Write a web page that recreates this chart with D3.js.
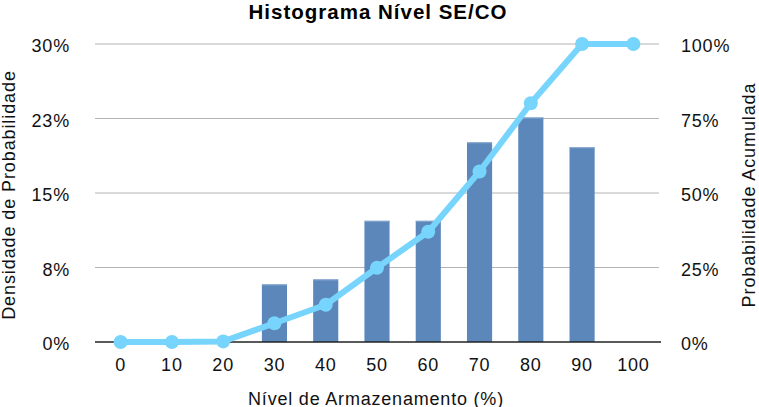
<!DOCTYPE html>
<html><head><meta charset="utf-8">
<script src="https://cdn.jsdelivr.net/npm/d3@7"></script>
<style>body{margin:0;background:#fff}svg{display:block}text{font-family:"Liberation Sans",Arial,sans-serif}</style>
</head><body>
<svg id="c" width="759" height="407"></svg>
<script>
const categories = ["0","10","20","30","40","50","60","70","80","90","100"];
const density = [0, 0, 0, 5.8, 6.3, 12.2, 12.2, 20.1, 22.6, 19.6, 0];
const cumulative = [0, 0, 0.2, 6.3, 12.5, 24.9, 37.0, 57.2, 80.1, 100, 100];
const leftTicks = [0, 7.5, 15, 22.5, 30];
const rightTicks = [0, 25, 50, 75, 100];

const svg = d3.select("#c");
const x = d3.scaleBand().domain(categories).range([95, 659]).paddingInner(0).paddingOuter(0);
const yL = d3.scaleLinear().domain([0,30]).range([342,44]);
const yR = d3.scaleLinear().domain([0,100]).range([342,44]);

// grid
svg.append("g").selectAll("line").data(leftTicks.slice(1)).join("line")
  .attr("x1",95).attr("x2",659).attr("y1",d=>yL(d)).attr("y2",d=>yL(d))
  .attr("stroke","#b3b3b3").attr("stroke-width",1);

// bars
const bw = x.bandwidth()*0.49;
const barData = density.map((v,i)=>({c:categories[i],v})).filter(d=>d.v>0);
svg.append("g").selectAll("rect").data(barData).join("rect")
  .attr("x",d=>x(d.c)+x.bandwidth()/2-bw/2).attr("width",bw)
  .attr("y",d=>yL(d.v)).attr("height",d=>yL(0)-yL(d.v))
  .attr("fill","#5b87ba");
svg.append("g").selectAll("line").data(barData).join("line")
  .attr("x1",d=>x(d.c)+x.bandwidth()/2-bw/2).attr("x2",d=>x(d.c)+x.bandwidth()/2+bw/2)
  .attr("y1",d=>yL(d.v)+0.5).attr("y2",d=>yL(d.v)+0.5)
  .attr("stroke","#8aaad0").attr("stroke-width",1);

// baseline
svg.append("line").attr("x1",95).attr("x2",661).attr("y1",342).attr("y2",342).attr("stroke","#222").attr("stroke-width",1.5);

// line
const cx = c => x(c)+x.bandwidth()/2;
const pts = cumulative.map((v,i)=>({c:categories[i],v}));
svg.append("path").datum(pts)
  .attr("d", d3.line().x(d=>cx(d.c)).y(d=>yR(d.v)))
  .attr("fill","none").attr("stroke","#77d4fc").attr("stroke-width",6).attr("stroke-linejoin","round");
svg.append("g").selectAll("circle").data(pts).join("circle")
  .attr("cx",d=>cx(d.c)).attr("cy",d=>yR(d.v)).attr("r",7).attr("fill","#77d4fc");

// axes
const fmtL = d => Math.round(d) + "%";
const axL = d3.axisLeft(yL).tickValues(leftTicks).tickFormat(fmtL).tickSize(0).tickPadding(0);
const gL = svg.append("g").attr("transform","translate(71,2)").call(axL);
const axR = d3.axisRight(yR).tickValues(rightTicks).tickFormat(d=>d+"%").tickSize(0).tickPadding(0);
const gR = svg.append("g").attr("transform","translate(681,2)").call(axR);
const axB = d3.axisBottom(x).tickSize(0).tickPadding(0);
const gB = svg.append("g").attr("transform","translate(0,358)").call(axB);
[gL,gR,gB].forEach(g=>{g.select(".domain").remove();g.selectAll("text").attr("font-size",18).attr("fill","#111").attr("letter-spacing","0.8px").attr("font-family","Liberation Sans, Arial, sans-serif");});
gB.selectAll("text").attr("dy","0.71em");
gL.selectAll("text").attr("dx","-1px");

// titles
svg.append("text").attr("x",378).attr("y",18.5).attr("text-anchor","middle")
  .attr("font-size",20.5).attr("font-weight","bold").attr("letter-spacing","1px").attr("fill","#000").text("Histograma Nível SE/CO");
svg.append("text").attr("x",376).attr("y",404.5).attr("text-anchor","middle")
  .attr("font-size",18).attr("letter-spacing","0.8px").attr("fill","#111").text("Nível de Armazenamento (%)");
svg.append("text").attr("transform","translate(15,195) rotate(-90)").attr("text-anchor","middle")
  .attr("font-size",18).attr("letter-spacing","0.9px").attr("fill","#111").text("Densidade de Probabilidade");
svg.append("text").attr("transform","translate(755,195) rotate(-90)").attr("text-anchor","middle")
  .attr("font-size",18).attr("letter-spacing","0.9px").attr("fill","#111").text("Probabilidade Acumulada");
</script>
</body></html>
